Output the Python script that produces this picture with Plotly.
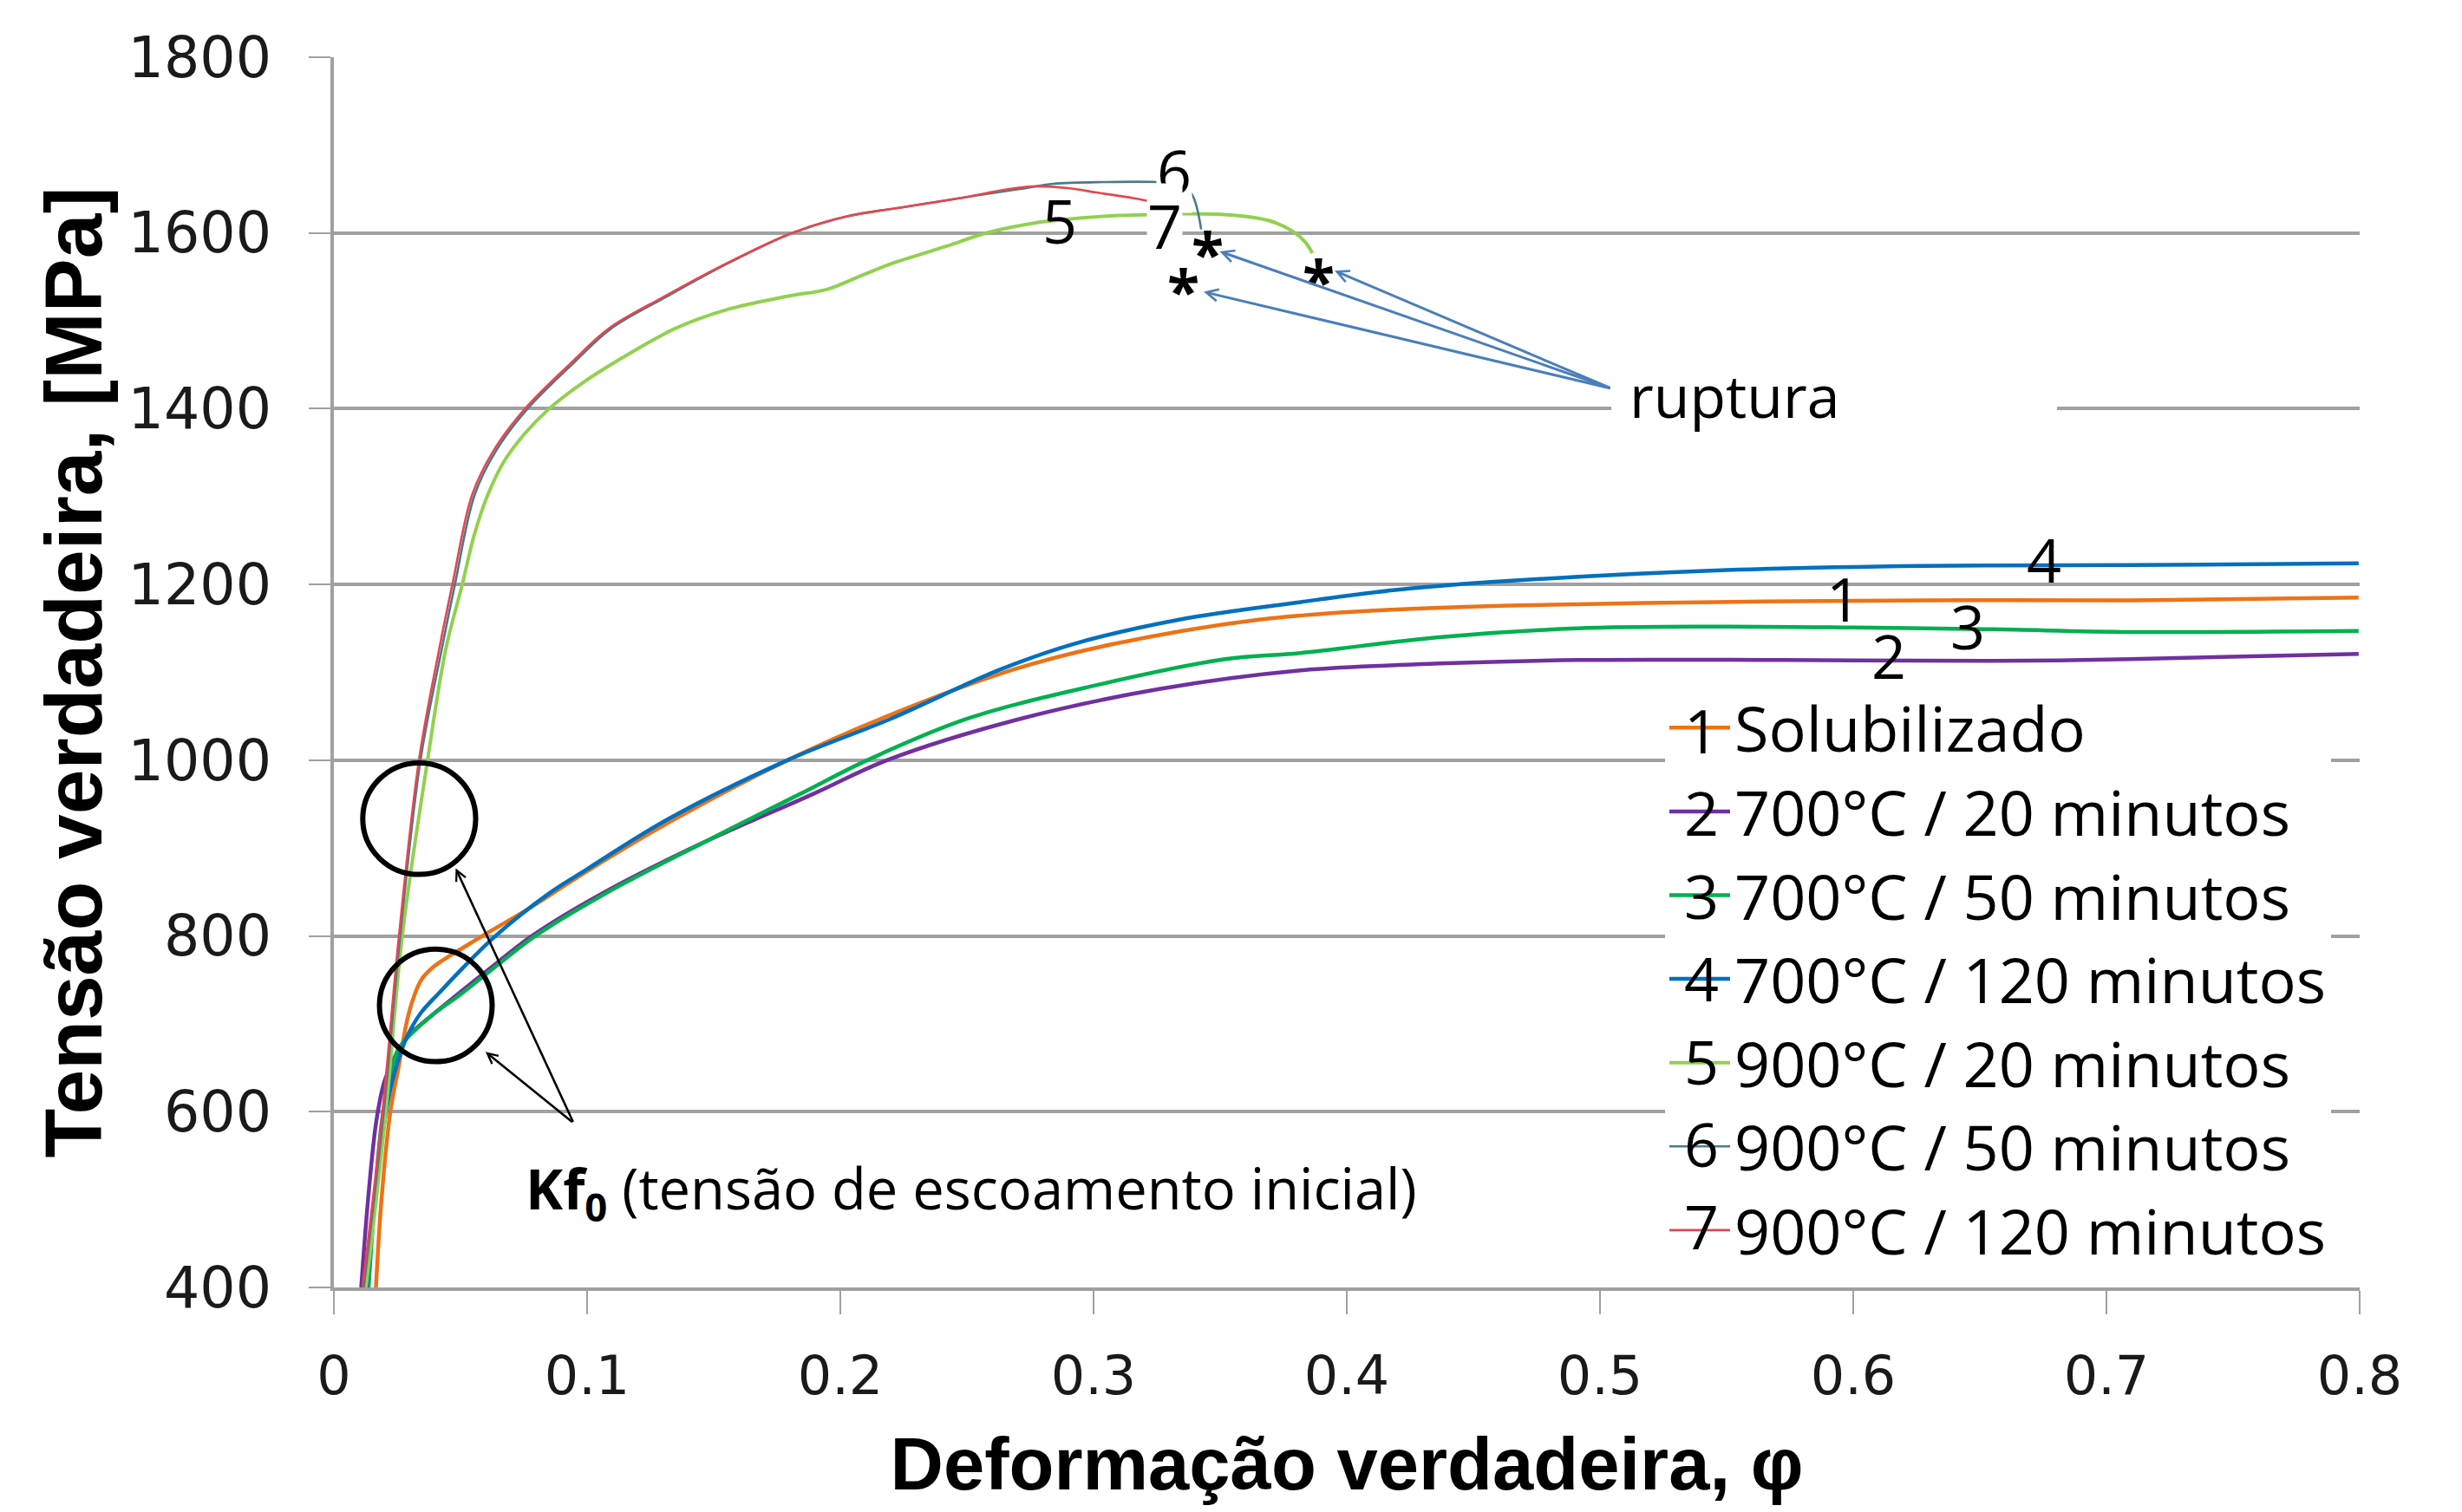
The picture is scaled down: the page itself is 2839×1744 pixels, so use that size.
import plotly.graph_objects as go

# ---------------- data ----------------
names = ["Solubilizado", "700°C / 20 minutos", "700°C / 50 minutos", "700°C / 120 minutos",
         "900°C / 20 minutos", "900°C / 50 minutos", "900°C / 120 minutos"]
colors = ["#EE7216", "#7030A0", "#00B050", "#0070C0", "#92D050", "#4A7A8C", "#E5474F"]
widths = [4.5, 4.5, 4.5, 4.5, 4, 2.6, 2.6]

x1 = [0.0166, 0.0188, 0.0223, 0.0255, 0.0290, 0.0315, 0.0345, 0.0390, 0.0450, 0.0507, 0.0586, 0.0769,
      0.1018, 0.1346, 0.1791, 0.2158, 0.2682, 0.3075, 0.3652, 0.4092, 0.4638, 0.5457, 0.6276, 0.7094, 0.7996]
y1 = [400, 500, 600, 650, 705, 730, 750, 764, 776, 786, 800, 831,
      877, 933, 1000, 1047, 1103, 1132, 1160, 1170, 1176, 1180, 1182, 1182, 1185]

x2 = [0.0108, 0.0135, 0.0168, 0.0200, 0.0245, 0.0300, 0.0376, 0.0638, 0.0782, 0.1057, 0.145, 0.1896,
      0.2184, 0.2709, 0.3259, 0.3809, 0.4364, 0.491, 0.573, 0.6549, 0.7094, 0.7996]
y2 = [400, 500, 590, 635, 665, 688, 707, 768, 800, 848, 905, 962,
      1000, 1047, 1081, 1102, 1110, 1114, 1114, 1113, 1115, 1121]

x3 = [0.0137, 0.0188, 0.0215, 0.0236, 0.0258, 0.0376, 0.0507, 0.0651, 0.0795, 0.107, 0.145, 0.1844,
      0.2106, 0.2499, 0.2945, 0.352, 0.3818, 0.4364, 0.491, 0.5457, 0.6003, 0.6549, 0.7094, 0.7996]
y3 = [400, 586, 630, 655, 673, 707, 735, 768, 800, 848, 905, 962,
      1000, 1047, 1081, 1115, 1122, 1140, 1150, 1152, 1151, 1149, 1146, 1147]

x4 = [0.0131, 0.0160, 0.0206, 0.0235, 0.0270, 0.0300, 0.0345, 0.0415, 0.0507, 0.0638, 0.0848, 0.1005,
      0.132, 0.1791, 0.2198, 0.263, 0.2918, 0.3338, 0.3818, 0.4200, 0.4638, 0.5457, 0.6276, 0.7094, 0.7996]
y4 = [400, 500, 600, 640, 672, 692, 713, 735, 763, 800, 848, 877,
      933, 1000, 1047, 1103, 1132, 1160, 1180, 1194, 1204, 1216, 1221, 1222, 1224]

x5 = [0.0127, 0.0205, 0.027, 0.037, 0.0441, 0.0507, 0.0553, 0.0605, 0.0672, 0.0755, 0.0850, 0.0975,
      0.111, 0.1346, 0.1555, 0.1791, 0.1949, 0.2079, 0.2211, 0.242, 0.2577, 0.2761, 0.2842, 0.3038,
      0.3235, 0.3366, 0.3563, 0.3694, 0.3786, 0.3838, 0.3864]
y5 = [400, 600, 800, 1000, 1125, 1200, 1255, 1300, 1340, 1372, 1400, 1428,
      1453, 1491, 1513, 1528, 1536, 1551, 1566, 1585, 1600, 1611, 1614, 1619,
      1621, 1622, 1620, 1614, 1602, 1589, 1577]

x6 = [0.0118, 0.0197, 0.0262, 0.0342, 0.0425, 0.0478, 0.0556, 0.0640, 0.0765, 0.0950, 0.1094,
      0.1317, 0.1560, 0.1810, 0.2027, 0.2263, 0.2499, 0.2708, 0.2842, 0.3050, 0.3248, 0.3330, 0.3386, 0.3425]
y6 = [400, 600, 800, 1000, 1125, 1200, 1302, 1352, 1400, 1453, 1491,
      1528, 1566, 1600, 1619, 1630, 1641, 1650, 1656, 1658, 1658, 1656, 1645, 1604]

x7 = [0.0113, 0.0192, 0.0257, 0.0336, 0.0415, 0.0468, 0.0546, 0.0630, 0.0755, 0.094, 0.1084,
      0.1307, 0.1555, 0.1810, 0.2027, 0.2263, 0.2499, 0.2645, 0.2760, 0.2900, 0.3012, 0.3189, 0.3320,
      0.3333, 0.3344]
y7 = [400, 600, 800, 1000, 1125, 1200, 1302, 1352, 1400, 1453, 1491,
      1528, 1566, 1600, 1619, 1630, 1641, 1649, 1653, 1651, 1646, 1638, 1628,
      1610, 1562]

xs = [x1, x2, x3, x4, x5, x6, x7]
ys = [y1, y2, y3, y4, y5, y6, y7]

# curve number labels (position of each digit on the chart)
lab_text = ["1", "2", "3", "4", "5", "6", "7"]
lab_x = [0.5962, 0.6139, 0.6453, 0.6753, 0.2868, 0.3320, 0.3281]
lab_y = [1184, 1119, 1153, 1229, 1615, 1671, 1609]

# rupture points (asterisks) and the arrow tail at the "ruptura" text
rup_x = [0.3353, 0.3451, 0.3890]
rup_y = [1545, 1587, 1556]
rup_head_x = [0.3435, 0.3498, 0.3952]
rup_head_y = [1533, 1579, 1557]
rup_tail = (0.5045, 1423)

# Kf0 circles and arrows
kf_circles = [(0.0114, 0.0560, 870, 997), (0.0180, 0.0625, 657, 785)]
kf_heads_x = [0.0481, 0.0599]
kf_heads_y = [877, 668]
kf_tail = (0.0947, 587)

y_ticks = [400, 600, 800, 1000, 1200, 1400, 1600, 1800]
x_ticks = [0, 0.1, 0.2, 0.3, 0.4, 0.5, 0.6, 0.7, 0.8]

# ---------------- figure ----------------
PAGE_OFF = 8                       # default body margin of the html page
W, H = 2839 - 2 * PAGE_OFF, 1744 - 2 * PAGE_OFF
ML, MT = 385 - PAGE_OFF, 66 - PAGE_OFF
PW, PH = 2336, 1419
MR, MB = W - ML - PW, H - MT - PH

def px_to_paper(px, py):
    fx, fy = px - PAGE_OFF, py - PAGE_OFF
    return (fx - ML) / PW, (MT + PH - fy) / PH

fig = go.Figure()
for i in range(7):
    fig.add_trace(go.Scatter(x=xs[i], y=ys[i], mode="lines", name=names[i],
                             line=dict(color=colors[i], width=widths[i], shape="spline", smoothing=1.0)))

TXT = "Open Sans"
ann = []
for t, x, y in zip(lab_text, lab_x, lab_y):
    bg = "white" if t in ("6", "7") else "rgba(0,0,0,0)"
    ann.append(dict(x=x, y=y, xref="x", yref="y", text=t, showarrow=False,
                    xanchor="center", yanchor="middle",
                    font=dict(family=TXT, size=70, color="black"), bgcolor=bg, borderpad=0))

for x, y in zip(rup_x, rup_y):
    ann.append(dict(x=x, y=y, xref="x", yref="y", text="<b>*</b>", showarrow=False,
                    xanchor="center", yanchor="middle",
                    yshift=-10, font=dict(family=TXT, size=68, color="black")))

for hx, hy in zip(rup_head_x, rup_head_y):
    ann.append(dict(x=hx, y=hy, xref="x", yref="y", ax=rup_tail[0], ay=rup_tail[1],
                    axref="x", ayref="y", text="", showarrow=True, arrowhead=5,
                    arrowsize=0.9, arrowwidth=3, arrowcolor="#4A7EBB"))

for hx, hy in zip(kf_heads_x, kf_heads_y):
    ann.append(dict(x=hx, y=hy, xref="x", yref="y", ax=kf_tail[0], ay=kf_tail[1],
                    axref="x", ayref="y", text="", showarrow=True, arrowhead=5,
                    arrowsize=0.9, arrowwidth=2.6, arrowcolor="black"))

ann.append(dict(x=0.5531, y=1416, xref="x", yref="y", text="ruptura", showarrow=False,
                xanchor="center", yanchor="middle",
                font=dict(family=TXT, size=68, color="black")))
ann.append(dict(x=0.2517, y=510, xref="x", yref="y",
                text="<b>Kf<sub>0</sub></b> (tensão de escoamento inicial)", showarrow=False,
                xanchor="center", yanchor="middle",
                font=dict(family=TXT, size=65, color="black")))

# digits drawn on the legend symbols
row_gap = 95.4
leg_rows_py = [842 + k * row_gap for k in range(7)]
for t, py in zip(lab_text, leg_rows_py):
    px, pyp = px_to_paper(1962, py)
    ann.append(dict(x=px, y=pyp, xref="paper", yref="paper", text=t, showarrow=False,
                    xanchor="center", yanchor="middle",
                    font=dict(family=TXT, size=70, color="black")))

shapes = []
for (a, b, c, d) in kf_circles:
    shapes.append(dict(type="circle", xref="x", yref="y", x0=a, x1=b, y0=c, y1=d,
                       line=dict(color="black", width=6)))
shapes.append(dict(type="rect", xref="x", yref="y", x0=0.5045, x1=0.6805, y0=1352, y1=1470,
                   fillcolor="white", line=dict(width=0), layer="between"))

lx, ly = px_to_paper(1920, 786)
fig.update_layout(
    width=W, height=H,
    margin=dict(l=ML, r=MR, t=MT, b=MB, autoexpand=False),
    paper_bgcolor="white", plot_bgcolor="white",
    showlegend=True,
    legend=dict(x=lx, y=ly, xanchor="left", yanchor="top", bgcolor="white",
                font=dict(family=TXT, size=72, color="black"), tracegroupgap=0,
                itemwidth=70, borderwidth=0),
    annotations=ann, shapes=shapes,
    xaxis=dict(range=[0, 0.8], tickvals=x_ticks, ticktext=[("%g" % v) for v in x_ticks],
               automargin=False,
               showgrid=False, zeroline=False, showline=True, linecolor="#A0A0A0", linewidth=4,
               ticks="outside", ticklen=27, tickwidth=2, tickcolor="#A0A0A0",
               ticklabelstandoff=18,
               tickfont=dict(family="DejaVu Sans", size=62, color="#1a1a1a"),
               title=dict(text="Deformação verdadeira, φ", standoff=77,
                          font=dict(family="Liberation Sans", size=85, color="black", weight="bold"))),
    yaxis=dict(range=[400, 1800], tickvals=y_ticks, automargin=False,
               showgrid=True, gridcolor="#A0A0A0", gridwidth=4, zeroline=False,
               showline=True, linecolor="#A0A0A0", linewidth=4,
               ticks="outside", ticklen=25, tickwidth=2, tickcolor="#A0A0A0",
               ticklabelstandoff=30,
               tickfont=dict(family="DejaVu Sans", size=65, color="#1a1a1a"),
               title=dict(text="Tensão verdadeira, [MPa]", standoff=0,
                          font=dict(family="Liberation Sans", size=93, color="black", weight="bold"))),
)

fig.write_html("out.html")
